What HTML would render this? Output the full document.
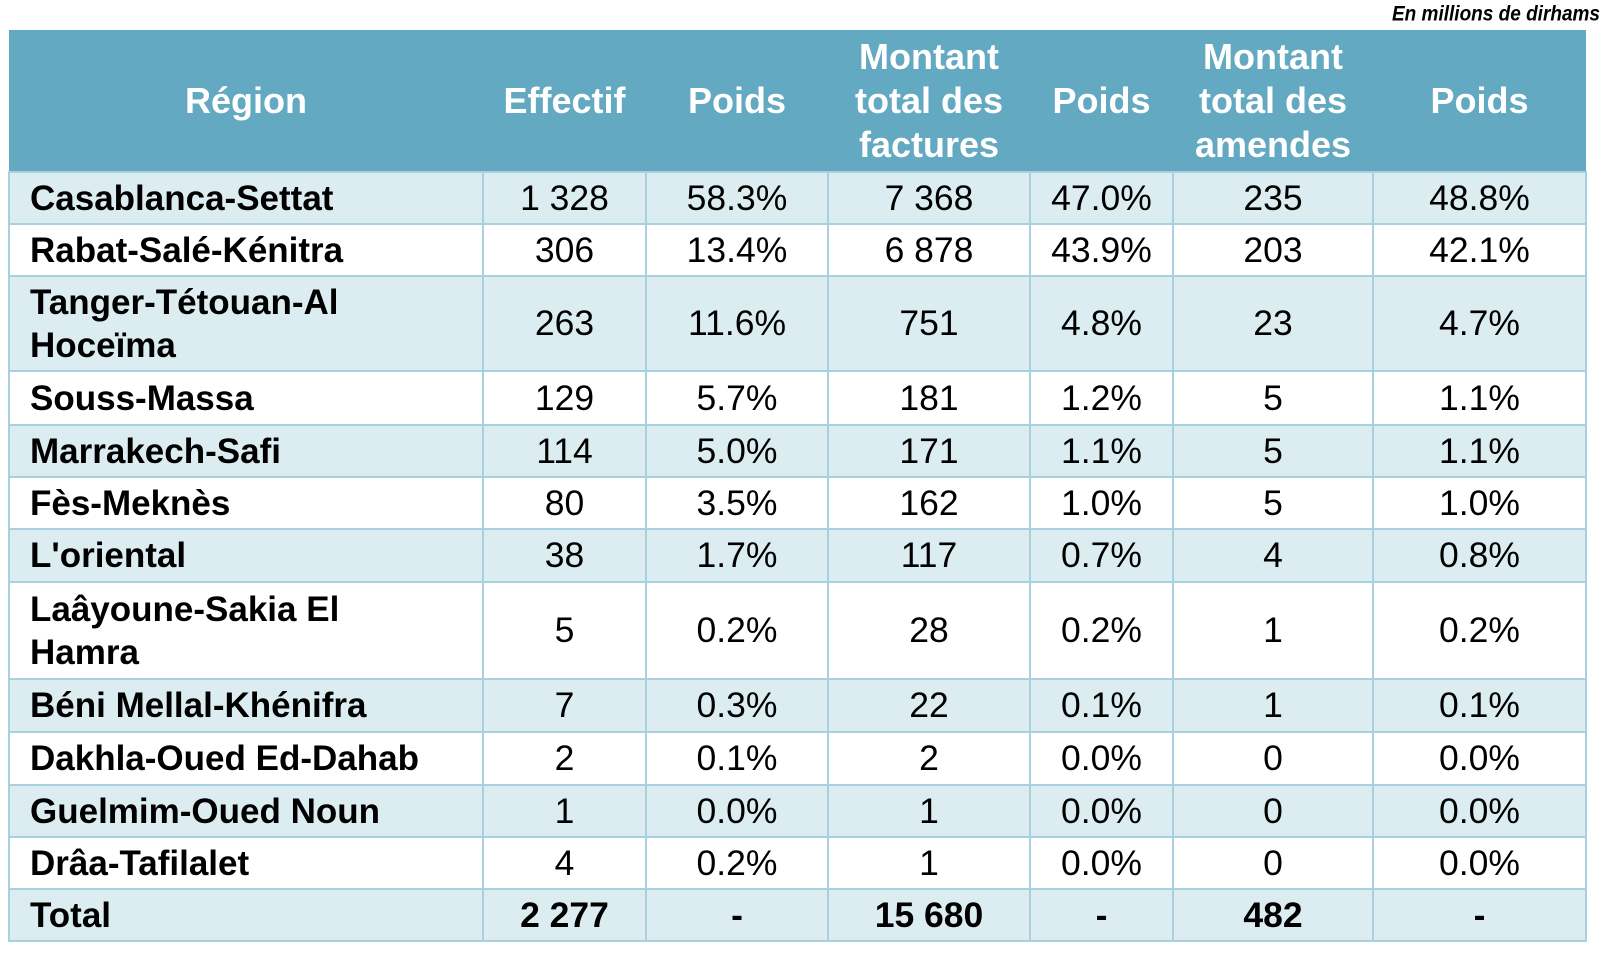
<!DOCTYPE html>
<html><head><meta charset="utf-8"><style>
body{margin:0;width:1604px;height:978px;background:#fff;position:relative;overflow:hidden;font-family:"Liberation Sans",Arial,sans-serif}
.note{position:absolute;right:4px;top:4px;font-size:19px;font-weight:bold;font-style:italic;color:#000;font-family:"Liberation Sans",sans-serif;transform:scaleY(1.1)}
table{position:absolute;left:8px;top:30px;border-collapse:collapse;table-layout:fixed;width:1577px}
th{background:#64a9c2;color:#fff;font-size:36px;font-weight:bold;line-height:44px;height:141px;padding:0;border:none}
td{border:2px solid #a8d0df;font-size:35.5px;color:#000;text-align:center;padding:0;line-height:43px}
td:first-child{text-align:left;font-weight:bold;padding-left:20px;font-size:35px}
tr.l td{background:#dcedf2}
tr.w td{background:#fff}
tr.b td{font-weight:bold}
</style></head><body>
<div class="note">En millions de dirhams</div>
<table>
<colgroup><col style="width:474px"><col style="width:163px"><col style="width:182px"><col style="width:202px"><col style="width:143px"><col style="width:200px"><col style="width:213px"></colgroup>
<tr><th>Région</th><th>Effectif</th><th>Poids</th><th>Montant<br>total des<br>factures</th><th>Poids</th><th>Montant<br>total des<br>amendes</th><th>Poids</th></tr>
<tr class="l" style="height:52px"><td>Casablanca-Settat</td><td>1 328</td><td>58.3%</td><td>7 368</td><td>47.0%</td><td>235</td><td>48.8%</td></tr>
<tr class="w" style="height:52px"><td>Rabat-Salé-Kénitra</td><td>306</td><td>13.4%</td><td>6 878</td><td>43.9%</td><td>203</td><td>42.1%</td></tr>
<tr class="l" style="height:95px"><td>Tanger-Tétouan-Al<br>Hoceïma</td><td>263</td><td>11.6%</td><td>751</td><td>4.8%</td><td>23</td><td>4.7%</td></tr>
<tr class="w" style="height:54px"><td>Souss-Massa</td><td>129</td><td>5.7%</td><td>181</td><td>1.2%</td><td>5</td><td>1.1%</td></tr>
<tr class="l" style="height:52px"><td>Marrakech-Safi</td><td>114</td><td>5.0%</td><td>171</td><td>1.1%</td><td>5</td><td>1.1%</td></tr>
<tr class="w" style="height:52px"><td>Fès-Meknès</td><td>80</td><td>3.5%</td><td>162</td><td>1.0%</td><td>5</td><td>1.0%</td></tr>
<tr class="l" style="height:53px"><td>L'oriental</td><td>38</td><td>1.7%</td><td>117</td><td>0.7%</td><td>4</td><td>0.8%</td></tr>
<tr class="w" style="height:97px"><td>Laâyoune-Sakia El<br>Hamra</td><td>5</td><td>0.2%</td><td>28</td><td>0.2%</td><td>1</td><td>0.2%</td></tr>
<tr class="l" style="height:53px"><td>Béni Mellal-Khénifra</td><td>7</td><td>0.3%</td><td>22</td><td>0.1%</td><td>1</td><td>0.1%</td></tr>
<tr class="w" style="height:53px"><td>Dakhla-Oued Ed-Dahab</td><td>2</td><td>0.1%</td><td>2</td><td>0.0%</td><td>0</td><td>0.0%</td></tr>
<tr class="l" style="height:52px"><td>Guelmim-Oued Noun</td><td>1</td><td>0.0%</td><td>1</td><td>0.0%</td><td>0</td><td>0.0%</td></tr>
<tr class="w" style="height:52px"><td>Drâa-Tafilalet</td><td>4</td><td>0.2%</td><td>1</td><td>0.0%</td><td>0</td><td>0.0%</td></tr>
<tr class="l b" style="height:52px"><td>Total</td><td>2 277</td><td>-</td><td>15 680</td><td>-</td><td>482</td><td>-</td></tr>
</table>
</body></html>
